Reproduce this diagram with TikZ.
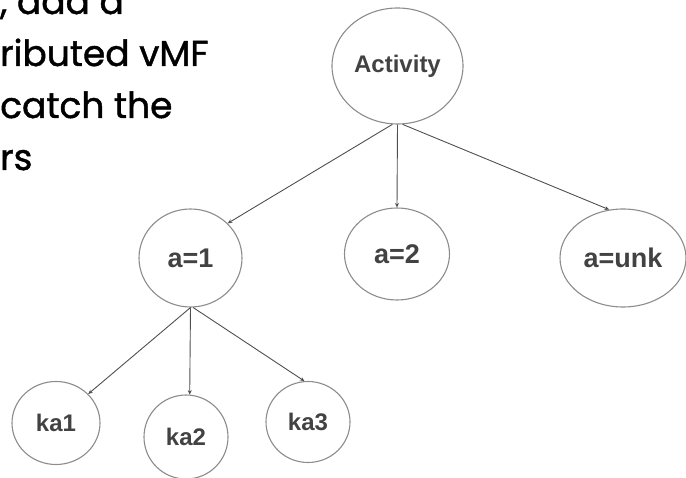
\documentclass[tikz,border=0pt]{standalone}
\usepackage{fontspec}
\setmainfont{Liberation Sans}
\newfontfamily\notefont[FakeBold=1.2]{Poppins}
\usetikzlibrary{positioning,arrows.meta,shapes.geometric}
\definecolor{ringgray}{HTML}{8C8C8C}
\definecolor{linkgray}{HTML}{505050}
\definecolor{labelgray}{HTML}{424242}

\begin{document}
\begin{tikzpicture}[x=1pt,y=-1pt,
  state/.style={ellipse, draw=ringgray, line width=1.1pt, inner sep=0pt, text=labelgray, font=\bfseries\fontsize{24}{24}\selectfont},
  bigstate/.style={state, font=\bfseries\fontsize{27}{27}\selectfont},
  link/.style={draw=linkgray, line width=0.9pt, -{Stealth[length=4.5pt,width=4pt]}}]
\clip (0,0) rectangle (686,478);
% note text cut off at the left edge
\node[anchor=base west, align=left, inner sep=0pt, font=\notefont\fontsize{36}{52}\selectfont] (note) at (0,170) {, add a\\ributed vMF\\catch the\\rs};
% tree
\node[state, minimum width=131, minimum height=116] (act) at (397.5,66) {Activity};
\node[bigstate, minimum width=103, minimum height=98] (a1) at (190.5,258) {a=1\hspace{24pt}};
\node[bigstate, minimum width=105, minimum height=92] (a2) at (397,254) {a=2};
\node[bigstate, minimum width=126, minimum height=98] (aunk) at (623,258) {a=unk};
\node[state, minimum width=88, minimum height=83] (ka1) at (56,423) {ka1\hspace{14pt}};
\node[state, minimum width=84, minimum height=84] (ka2) at (186,437) {ka2};
\node[state, minimum width=84, minimum height=81] (ka3) at (308,422) {ka3};
\draw[link] (act.-95) -- (a1.43);
\draw[link] (act.south) -- (a2.north);
\draw[link] (act.-85) -- (aunk.106);
\draw[link] (a1.south) -- (ka1.42);
\draw[link] (a1.south) -- (ka2.85);
\draw[link] (a1.-87) -- (ka3.95);
\end{tikzpicture}
\end{document}
